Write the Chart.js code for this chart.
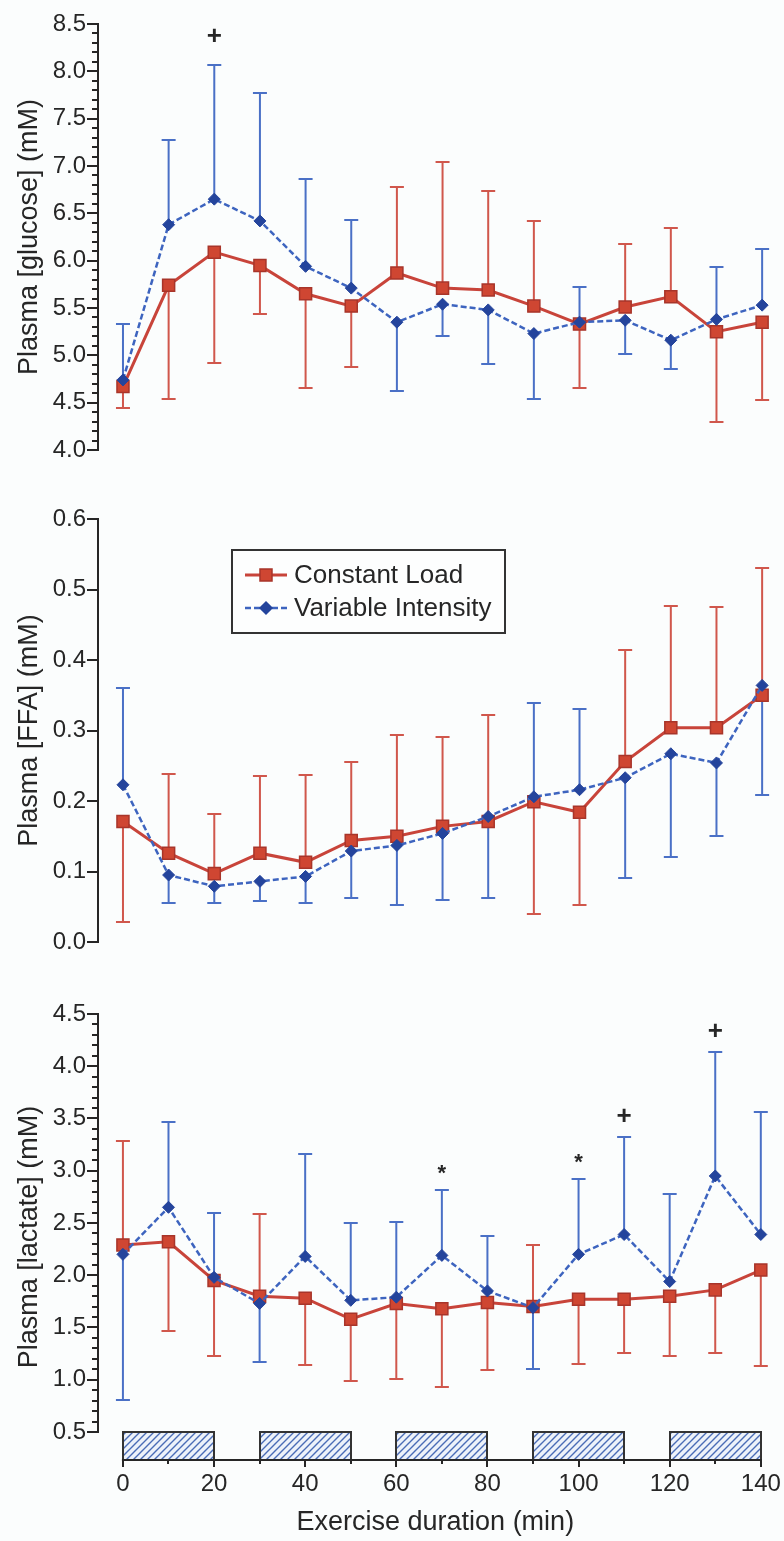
<!DOCTYPE html>
<html>
<head>
<meta charset="utf-8">
<title>Plasma glucose, FFA and lactate during exercise</title>
<script src="https://cdn.jsdelivr.net/npm/chart.js@4.4.1/dist/chart.umd.min.js"></script>
<style>
  html, body { margin: 0; padding: 0; background: #fbfdfd; }
  body { width: 784px; height: 1541px; position: relative; overflow: hidden; }
  canvas { position: absolute; left: 0; }
  #glucose { top: 0; }
  #ffa { top: 470px; }
  #lactate { top: 970px; }
</style>
</head>
<body>
<canvas id="glucose" width="784" height="470"></canvas>
<canvas id="ffa" width="784" height="500"></canvas>
<canvas id="lactate" width="784" height="571"></canvas>
<script>
// sampling times (min)
const minutes = [0, 10, 20, 30, 40, 50, 60, 70, 80, 90, 100, 110, 120, 130, 140];
const xTickValues = [0, 20, 40, 60, 80, 100, 120, 140];
const seriesNames = ['Constant Load', 'Variable Intensity'];

// SD bars are one-sided: positive is drawn upward, negative downward
const glucoseConstant   = [4.67, 5.74, 6.09, 5.95, 5.65, 5.52, 5.87, 5.71, 5.69, 5.52, 5.33, 5.51, 5.62, 5.25, 5.35];
const glucoseConstantSD = [-0.23, -1.20, -1.17, -0.51, -0.99, -0.64, 0.91, 1.33, 1.05, 0.90, -0.68, 0.67, 0.72, -0.95, -0.82];
const glucoseVariable   = [4.74, 6.38, 6.65, 6.42, 5.94, 5.71, 5.35, 5.54, 5.48, 5.23, 5.35, 5.37, 5.16, 5.38, 5.53];
const glucoseVariableSD = [0.59, 0.89, 1.42, 1.35, 0.92, 0.72, -0.73, -0.34, -0.57, -0.69, 0.37, -0.36, -0.30, 0.55, 0.59];

const ffaConstant   = [0.171, 0.126, 0.097, 0.126, 0.113, 0.144, 0.150, 0.164, 0.171, 0.199, 0.184, 0.256, 0.304, 0.304, 0.350];
const ffaConstantSD = [-0.143, 0.113, 0.084, 0.110, 0.124, 0.112, 0.144, 0.127, 0.151, -0.159, -0.132, 0.158, 0.172, 0.171, 0.181];
const ffaVariable   = [0.223, 0.095, 0.079, 0.086, 0.093, 0.129, 0.137, 0.154, 0.178, 0.206, 0.216, 0.233, 0.267, 0.254, 0.364];
const ffaVariableSD = [0.137, -0.040, -0.023, -0.028, -0.038, -0.067, -0.085, -0.095, -0.115, 0.133, 0.114, -0.142, -0.147, -0.103, -0.155];

const lactateConstant   = [2.29, 2.32, 1.95, 1.80, 1.78, 1.58, 1.73, 1.68, 1.74, 1.70, 1.77, 1.77, 1.80, 1.86, 2.05];
const lactateConstantSD = [0.99, -0.85, -0.72, 0.79, -0.64, -0.59, -0.72, -0.75, -0.65, 0.59, -0.62, -0.51, -0.57, -0.60, -0.92];
const lactateVariable   = [2.20, 2.65, 1.98, 1.73, 2.18, 1.76, 1.79, 2.19, 1.85, 1.69, 2.20, 2.39, 1.94, 2.95, 2.39];
const lactateVariableSD = [-1.39, 0.82, 0.62, -0.56, 0.98, 0.74, 0.72, 0.63, 0.53, -0.59, 0.72, 0.93, 0.84, 1.19, 1.17];

// significance marks above the variable-intensity bars
const glucoseMarkTimes = [20];
const glucoseMarkSymbols = ['+'];
const lactateMarkTimes = [70, 100, 110, 130];
const lactateMarkSymbols = ['*', '*', '+', '+'];

// high-intensity bouts (min)
const boutStarts = [0, 30, 60, 90, 120];
const boutEnds = [20, 50, 80, 110, 140];

const FONT = '"Liberation Sans", Arial, Helvetica, sans-serif';
const INK = '#262626';
const RED = '#c8443a', RED_POINT = '#cf4632', RED_EDGE = '#a8352a', RED_ERR = '#d0574c';
const BLUE = '#3d64bf', BLUE_POINT = '#24449c', BLUE_ERR = '#4a70c6';
const AXIS_LEFT = 98;
const X_MIN = -5.47, X_MAX = 142.6;

Chart.defaults.font.family = FONT;
Chart.defaults.color = INK;

const pairs = vals => vals.map((v, i) => ({ x: minutes[i], y: v }));

// vertical SD whiskers with caps, behind the lines
const errorBars = {
  id: 'errorBars',
  beforeDatasetsDraw(chart) {
    const { ctx, scales: { x, y } } = chart;
    chart.data.datasets.forEach(ds => {
      ctx.save();
      ctx.strokeStyle = ds.errorColor;
      ctx.lineWidth = 2;
      ctx.beginPath();
      ds.data.forEach((p, i) => {
        const px = x.getPixelForValue(p.x);
        const y0 = y.getPixelForValue(p.y);
        const y1 = Math.round(y.getPixelForValue(p.y + ds.sd[i]));
        ctx.moveTo(px, y0);
        ctx.lineTo(px, y1);
        ctx.moveTo(px - 7, y1);
        ctx.lineTo(px + 7, y1);
      });
      ctx.stroke();
      ctx.restore();
    });
  }
};

// y axis line from top to the lowest tick, minor ticks, optional time baseline
const axisLines = {
  id: 'axisLines',
  beforeDatasetsDraw(chart, args, opts) {
    const { ctx, chartArea, scales: { x, y } } = chart;
    const lowest = y.ticks[0].value;
    ctx.save();
    ctx.strokeStyle = INK;
    ctx.lineWidth = 2;
    ctx.beginPath();
    ctx.moveTo(chartArea.left, y.getPixelForValue(y.max) - 1);
    ctx.lineTo(chartArea.left, y.getPixelForValue(lowest) + 1);
    if (opts.minorStep) {
      const n = Math.round((y.max - lowest) / opts.minorStep);
      for (let k = 0; k <= n; k++) {
        const py = Math.round(y.getPixelForValue(lowest + k * opts.minorStep));
        ctx.moveTo(chartArea.left - 6, py);
        ctx.lineTo(chartArea.left, py);
      }
    }
    if (opts.baseline) {
      const by = chartArea.bottom;
      ctx.moveTo(x.getPixelForValue(minutes[0]) - 1, by);
      ctx.lineTo(x.getPixelForValue(minutes[minutes.length - 1]) + 1, by);
      minutes.filter(m => !xTickValues.includes(m)).forEach(m => {
        const px = Math.round(x.getPixelForValue(m));
        ctx.moveTo(px, by);
        ctx.lineTo(px, by + 4);
      });
    }
    ctx.stroke();
    ctx.restore();
  }
};

function hatchPattern(ctx) {
  const c = document.createElement('canvas');
  c.width = 7; c.height = 7;
  const g = c.getContext('2d');
  g.fillStyle = '#edf2fa';
  g.fillRect(0, 0, 7, 7);
  g.strokeStyle = '#4a6cb6';
  g.lineWidth = 1.4;
  g.beginPath();
  g.moveTo(-1, 8); g.lineTo(8, -1);
  g.moveTo(-1, 1); g.lineTo(1, -1);
  g.moveTo(6, 8); g.lineTo(8, 6);
  g.stroke();
  return ctx.createPattern(c, 'repeat');
}

// hatched exercise bouts sitting on the time axis
const bouts = {
  id: 'bouts',
  beforeDatasetsDraw(chart) {
    const { ctx, chartArea, scales: { x, y } } = chart;
    const top = Math.round(y.getPixelForValue(y.ticks[0].value));
    const bottom = chartArea.bottom;
    ctx.save();
    ctx.fillStyle = hatchPattern(ctx);
    ctx.strokeStyle = '#333';
    ctx.lineWidth = 2;
    boutStarts.forEach((s, i) => {
      const x0 = Math.round(x.getPixelForValue(s));
      const x1 = Math.round(x.getPixelForValue(boutEnds[i]));
      ctx.fillRect(x0, top, x1 - x0, bottom - top);
      ctx.strokeRect(x0, top, x1 - x0, bottom - top);
    });
    ctx.restore();
  }
};

// + and * marks above the variable-intensity SD bars
const marks = {
  id: 'marks',
  afterDatasetsDraw(chart, args, opts) {
    if (!opts.times) return;
    const { ctx, scales: { x, y } } = chart;
    const ds = chart.data.datasets[1];
    ctx.save();
    ctx.fillStyle = INK;
    ctx.textAlign = 'center';
    ctx.textBaseline = 'middle';
    opts.times.forEach((t, k) => {
      const i = minutes.indexOf(t);
      const sym = opts.symbols[k];
      const top = y.getPixelForValue(ds.data[i].y + ds.sd[i]);
      ctx.font = (sym === '*' ? 'bold 22px ' : 'bold 26px ') + FONT;
      ctx.fillText(sym, x.getPixelForValue(t), top - opts.gap + (sym === '*' ? 4 : 0));
    });
    ctx.restore();
  }
};

function drawMarker(ctx, style, cx, cy) {
  ctx.beginPath();
  if (style === 'rect') {
    ctx.rect(cx - 6, cy - 6, 12, 12);
  } else {
    ctx.moveTo(cx, cy - 6); ctx.lineTo(cx + 6, cy); ctx.lineTo(cx, cy + 6); ctx.lineTo(cx - 6, cy);
    ctx.closePath();
  }
  ctx.fill();
  ctx.stroke();
}

// boxed legend with line + marker samples
const boxLegend = {
  id: 'boxLegend',
  afterDraw(chart, args, opts) {
    if (!opts.show) return;
    const { ctx } = chart;
    ctx.save();
    ctx.fillStyle = '#fdfefe';
    ctx.fillRect(opts.left, opts.top, opts.width, opts.height);
    ctx.strokeStyle = '#333';
    ctx.lineWidth = 2;
    ctx.strokeRect(opts.left, opts.top, opts.width, opts.height);
    chart.data.datasets.forEach((ds, i) => {
      const cy = opts.top + opts.firstRow + i * opts.rowGap;
      ctx.strokeStyle = ds.borderColor;
      ctx.lineWidth = ds.borderWidth;
      ctx.setLineDash(ds.borderDash || []);
      ctx.beginPath();
      ctx.moveTo(opts.left + 13, cy);
      ctx.lineTo(opts.left + 55, cy);
      ctx.stroke();
      ctx.setLineDash([]);
      ctx.fillStyle = ds.pointBackgroundColor;
      ctx.strokeStyle = ds.pointBorderColor;
      ctx.lineWidth = 1.5;
      drawMarker(ctx, ds.pointStyle, opts.left + 34, cy);
      ctx.fillStyle = INK;
      ctx.font = '26px ' + FONT;
      ctx.textBaseline = 'middle';
      ctx.textAlign = 'left';
      ctx.fillText(ds.label, opts.left + 62, cy + 1);
    });
    ctx.restore();
  }
};

function makePanel(id, cfg) {
  const xAxis = cfg.showTime ? {
    type: 'linear', min: X_MIN, max: X_MAX,
    afterBuildTicks: s => { s.ticks = xTickValues.map(v => ({ value: v })); },
    afterFit: s => { s.height = cfg.timeAxisHeight; },
    border: { display: false },
    grid: { drawOnChartArea: false, tickLength: 7, color: INK, lineWidth: 2 },
    ticks: { color: INK, font: { size: 24 }, padding: 3, autoSkip: false, maxRotation: 0 },
    title: { display: true, text: 'Exercise duration (min)', color: INK, font: { size: 27 }, padding: { top: 0, bottom: 2 } }
  } : { type: 'linear', min: X_MIN, max: X_MAX, display: false };

  return new Chart(document.getElementById(id), {
    type: 'line',
    data: {
      datasets: [
        {
          label: seriesNames[0], data: pairs(cfg.constant), sd: cfg.constantSD,
          borderColor: RED, borderWidth: 3, errorColor: RED_ERR,
          pointStyle: 'rect', pointRadius: 8.5, pointBackgroundColor: RED_POINT,
          pointBorderColor: RED_EDGE, pointBorderWidth: 1.5, order: 1, clip: false
        },
        {
          label: seriesNames[1], data: pairs(cfg.variable), sd: cfg.variableSD,
          borderColor: BLUE, borderWidth: 2.5, borderDash: [6, 3], errorColor: BLUE_ERR,
          pointStyle: 'rectRot', pointRadius: 6, pointBackgroundColor: BLUE_POINT,
          pointBorderColor: BLUE_POINT, pointBorderWidth: 1, order: 0, clip: false
        }
      ]
    },
    options: {
      responsive: false,
      animation: false,
      events: [],
      layout: { padding: { left: 0, right: 9, top: cfg.padTop, bottom: cfg.padBottom } },
      plugins: {
        legend: { display: false },
        tooltip: { enabled: false },
        axisLines: { minorStep: cfg.minorStep, baseline: cfg.showTime },
        marks: { times: cfg.markTimes, symbols: cfg.markSymbols, gap: cfg.markGap },
        boxLegend: cfg.legend || { show: false }
      },
      scales: {
        x: xAxis,
        y: {
          min: cfg.yMin, max: cfg.yMax,
          afterBuildTicks: s => { s.ticks = s.ticks.filter(t => t.value >= cfg.yLowest - 1e-9); },
          afterFit: s => { s.width = AXIS_LEFT; },
          border: { display: false },
          grid: { drawOnChartArea: false, tickLength: 11, color: INK, lineWidth: 2 },
          ticks: { stepSize: cfg.step, color: INK, font: { size: 24 }, padding: 1, callback: v => v.toFixed(1) },
          title: { display: true, text: cfg.title, color: INK, font: { size: 27 }, padding: { top: 13, bottom: 0 } }
        }
      }
    },
    plugins: cfg.showTime ? [bouts, axisLines, errorBars, marks, boxLegend] : [axisLines, errorBars, marks, boxLegend]
  });
}

makePanel('glucose', {
  constant: glucoseConstant, constantSD: glucoseConstantSD,
  variable: glucoseVariable, variableSD: glucoseVariableSD,
  yMin: 4.0, yMax: 8.5, yLowest: 4.0, step: 0.5, minorStep: 0.1,
  title: 'Plasma [glucose] (mM)', padTop: 24, padBottom: 20,
  markTimes: glucoseMarkTimes, markSymbols: glucoseMarkSymbols, markGap: 28
});

makePanel('ffa', {
  constant: ffaConstant, constantSD: ffaConstantSD,
  variable: ffaVariable, variableSD: ffaVariableSD,
  yMin: 0, yMax: 0.6, yLowest: 0, step: 0.1,
  title: 'Plasma [FFA] (mM)', padTop: 49, padBottom: 28,
  legend: { show: true, left: 232, top: 80, width: 273, height: 83, firstRow: 25, rowGap: 33 }
});

makePanel('lactate', {
  constant: lactateConstant, constantSD: lactateConstantSD,
  variable: lactateVariable, variableSD: lactateVariableSD,
  yMin: 0.232, yMax: 4.5, yLowest: 0.5, step: 0.5, minorStep: 0.1,
  title: 'Plasma [lactate] (mM)', padTop: 44, padBottom: 0,
  showTime: true, timeAxisHeight: 81,
  markTimes: lactateMarkTimes, markSymbols: lactateMarkSymbols, markGap: 20
});
</script>
</body>
</html>
